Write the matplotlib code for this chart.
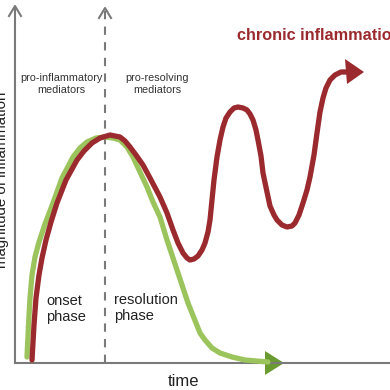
import matplotlib
matplotlib.use("Agg")
import matplotlib.pyplot as plt
from matplotlib.patches import Polygon

# Data (time, magnitude) in figure-pixel units
green_t = [27, 28.5, 30, 32, 35, 39, 45, 53, 62, 73, 80, 87, 96, 105, 113, 120, 127, 133, 140,
           147, 153, 160, 167, 177, 188, 200, 205, 212, 220, 232, 245, 268]
green_m = [357, 325, 298, 275, 257, 242, 224, 203, 178, 157, 148, 142, 138, 137, 138, 140, 147,
           157, 172, 187, 202, 217, 240, 270, 303, 333, 340, 348, 353, 357, 360, 362]
red_t = [32, 34, 36, 39, 42, 46, 51, 57, 66, 77, 84, 92, 100, 110, 120, 125, 130, 136, 143, 150,
         160, 167, 173, 178, 183, 187, 190, 194, 198, 202, 205, 208, 210, 212, 214, 217, 220,
         223, 226, 230, 234, 238, 243, 247, 250, 253, 256, 258, 261, 263, 267, 270, 274, 277,
         282, 287, 292, 295, 299, 303, 307, 310, 314, 317, 320, 323, 326, 330, 335, 341, 348]
red_m = [360, 325, 298, 275, 258, 240, 222, 203, 180, 160, 151, 143, 138, 135, 137, 141, 147,
         155, 165, 178, 197, 213, 230, 243, 253, 258, 260, 259, 256, 250, 243, 232, 220, 200,
         180, 157, 140, 127, 118, 112, 108, 107, 108, 110, 114, 120, 130, 140, 156, 173, 192,
         206, 215, 220, 225, 227, 226, 223, 215, 203, 190, 177, 155, 133, 112, 98, 88, 80, 75,
         72, 72]

RED = "#9b2a2e"
GREEN = "#9cc45c"
GREEN_DARK = "#6a9a30"
GRAY = "#7a7a7a"

fig = plt.figure(figsize=(3.9, 3.9), dpi=100)
ax = fig.add_axes([0, 0, 1, 1])
ax.set_xlim(0, 390)
ax.set_ylim(390, 0)
ax.axis("off")

# axes
ax.plot([15, 15], [363, 8], color=GRAY, lw=1.5, solid_capstyle="butt")
ax.plot([9, 15, 21], [16, 6, 16], color=GRAY, lw=1.5)
ax.plot([15, 390], [363, 363], color=GRAY, lw=1.5)

# dashed divider
ax.plot([105, 105], [363, 10], color=GRAY, lw=1.5, dashes=(4, 3.5))
ax.plot([99, 105, 111], [18, 8, 18], color=GRAY, lw=1.5)

# curves
ax.plot(green_t, green_m, color=GREEN, lw=3.8, solid_capstyle="round", solid_joinstyle="round")
ax.plot(red_t, red_m, color=RED, lw=3.8, solid_capstyle="round", solid_joinstyle="round")
ax.add_patch(Polygon([[265, 351], [284, 363], [265, 375]], closed=True, color=GREEN_DARK, lw=0))
ax.add_patch(Polygon([[345, 59], [364, 72], [347, 84]], closed=True, color=RED, lw=0))

# text
ax.text(237, 35, "chronic inflammation", color=RED, fontsize=11.7, fontweight="bold",
        va="center", ha="left", family="Liberation Sans")
ax.text(61, 84, "pro-inflammatory\nmediators", fontsize=7.8, ha="center", va="center",
        color="#333333", family="Liberation Sans", linespacing=1.25)
ax.text(157, 84, "pro-resolving\nmediators", fontsize=7.8, ha="center", va="center",
        color="#333333", family="Liberation Sans", linespacing=1.25)
ax.text(46, 309, "onset\nphase", fontsize=10.5, ha="left", va="center",
        color="#222222", family="Liberation Sans", linespacing=1.15)
ax.text(114, 308, "resolution\nphase", fontsize=10.5, ha="left", va="center",
        color="#222222", family="Liberation Sans", linespacing=1.15)
ax.text(183, 381, "time", fontsize=12, ha="center", va="center",
        color="#222222", family="Liberation Sans")
ax.text(2, 180, "magnitude of inflammation", fontsize=10.8, ha="center", va="center",
        rotation=90, color="#222222", family="Liberation Sans")

fig.savefig("out.png", dpi=100)
